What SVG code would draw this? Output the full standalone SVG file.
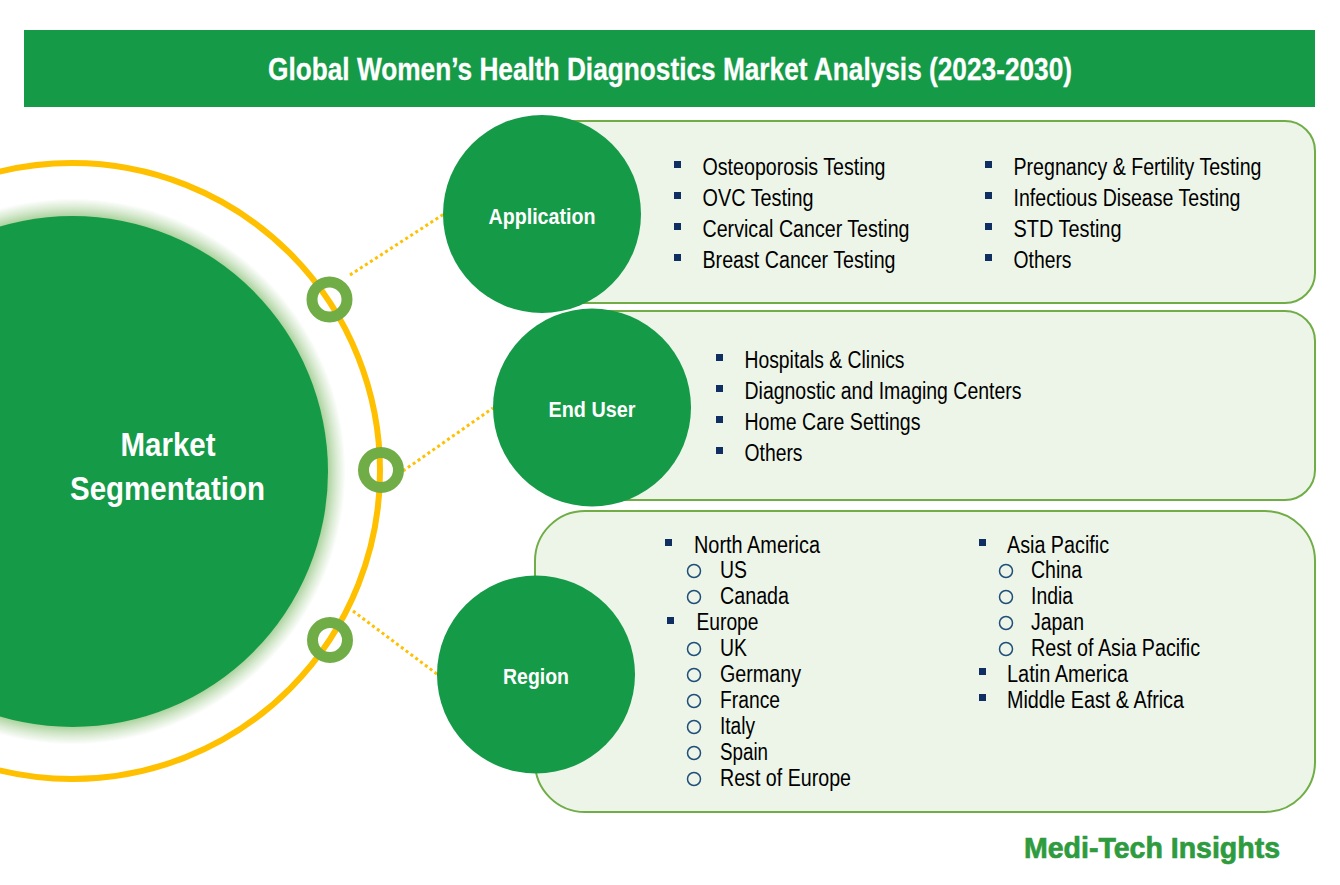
<svg xmlns="http://www.w3.org/2000/svg" width="1340" height="885" viewBox="0 0 1340 885">
<style>
text{font-family:"Liberation Sans",Arial,sans-serif}
.panel{fill:#EDF5E8;stroke:#70AD47;stroke-width:2}
.node{fill:#159A48}
.h{fill:#fff;font-weight:700;font-size:22px;text-anchor:middle}
.t{fill:#000;font-size:23px}
.sq{fill:#0F2F63}
.ci{fill:none;stroke:#1F4E79;stroke-width:1.5}
.link{fill:none;stroke:#FFC000;stroke-width:3;stroke-dasharray:3 3}
.knob{fill:none;stroke:#70AD47;stroke-width:11}
</style>
<defs>
<radialGradient id="glow" gradientUnits="userSpaceOnUse" cx="72.500" cy="471.500" r="273">
<stop offset="0.93" stop-color="#A5CF96"/>
<stop offset="0.965" stop-color="#D6E9CE"/>
<stop offset="1" stop-color="#fff"/>
</radialGradient>
</defs>
<rect width="1340" height="885" fill="#fff"/>
<g id="title"><rect x="24" y="30" width="1291" height="77" fill="#159A48"/>
<text x="670" y="80" fill="#fff" stroke="#fff" stroke-width="0.300" font-size="31" font-weight="700" text-anchor="middle" textLength="804" lengthAdjust="spacingAndGlyphs">Global Women’s Health Diagnostics Market Analysis (2023-2030)</text></g>
<g id="hub">
<circle cx="72" cy="471" r="308" fill="none" stroke="#FFC000" stroke-width="6"/>
<circle cx="72.500" cy="471.500" r="273" fill="url(#glow)"/>
<circle cx="72.500" cy="471.500" r="255.500" fill="#159A48"/>
<text x="168" y="456" fill="#fff" font-size="33" font-weight="700" text-anchor="middle" textLength="95" lengthAdjust="spacingAndGlyphs">Market</text>
<text x="167.500" y="500" fill="#fff" font-size="33" font-weight="700" text-anchor="middle" textLength="195" lengthAdjust="spacingAndGlyphs">Segmentation</text>
</g>
<g id="connectors">
<path class="link" d="M350 275L444 214"/>
<path class="link" d="M403 471L493 408"/>
<path class="link" d="M353 611L437 674"/>
</g>
<g id="knobs">
<circle class="knob" cx="329.500" cy="299.500" r="17.500"/>
<circle class="knob" cx="381" cy="470" r="17.500"/>
<circle class="knob" cx="330" cy="640" r="17.500"/>
</g>
<g id="application">
<rect class="panel" x="520" y="121" width="795" height="182" rx="30"/>
<circle class="node" cx="542" cy="214" r="99"/>
<text class="h" x="542" y="224" textLength="107" lengthAdjust="spacingAndGlyphs">Application</text>
<g class="sq"><rect x="674" y="161" width="7" height="7"/><rect x="674" y="192" width="7" height="7"/><rect x="674" y="223" width="7" height="7"/><rect x="674" y="254" width="7" height="7"/><rect x="985" y="161" width="7" height="7"/><rect x="985" y="192" width="7" height="7"/><rect x="985" y="223" width="7" height="7"/><rect x="985" y="254" width="7" height="7"/></g>
<text class="t" x="702.500" y="175" textLength="183" lengthAdjust="spacingAndGlyphs">Osteoporosis Testing</text>
<text class="t" x="702.500" y="206" textLength="111" lengthAdjust="spacingAndGlyphs">OVC Testing</text>
<text class="t" x="702.500" y="237" textLength="207" lengthAdjust="spacingAndGlyphs">Cervical Cancer Testing</text>
<text class="t" x="702.500" y="268" textLength="193" lengthAdjust="spacingAndGlyphs">Breast Cancer Testing</text>
<text class="t" x="1013.500" y="175" textLength="248" lengthAdjust="spacingAndGlyphs">Pregnancy &amp; Fertility Testing</text>
<text class="t" x="1013.500" y="206" textLength="227" lengthAdjust="spacingAndGlyphs">Infectious Disease Testing</text>
<text class="t" x="1013.500" y="237" textLength="108" lengthAdjust="spacingAndGlyphs">STD Testing</text>
<text class="t" x="1013.500" y="268" textLength="58" lengthAdjust="spacingAndGlyphs">Others</text>
</g>
<g id="end-user">
<rect class="panel" x="570" y="311" width="745" height="189" rx="30"/>
<circle class="node" cx="592" cy="407.500" r="99"/>
<text class="h" x="592" y="417" textLength="87" lengthAdjust="spacingAndGlyphs">End User</text>
<g class="sq"><rect x="716" y="354" width="7" height="7"/><rect x="716" y="385" width="7" height="7"/><rect x="716" y="416" width="7" height="7"/><rect x="716" y="447" width="7" height="7"/></g>
<text class="t" x="744.500" y="368" textLength="160" lengthAdjust="spacingAndGlyphs">Hospitals &amp; Clinics</text>
<text class="t" x="744.500" y="399" textLength="277" lengthAdjust="spacingAndGlyphs">Diagnostic and Imaging Centers</text>
<text class="t" x="744.500" y="430" textLength="176" lengthAdjust="spacingAndGlyphs">Home Care Settings</text>
<text class="t" x="744.500" y="461" textLength="58" lengthAdjust="spacingAndGlyphs">Others</text>
</g>
<g id="region">
<rect class="panel" x="535" y="511" width="780" height="301" rx="50"/>
<circle class="node" cx="536" cy="674.500" r="99"/>
<text class="h" x="536" y="684" textLength="66" lengthAdjust="spacingAndGlyphs">Region</text>
<g class="sq"><rect x="665" y="539" width="7" height="7"/><rect x="667" y="617" width="7" height="7"/><rect x="979" y="539" width="7" height="7"/><rect x="979" y="668" width="7" height="7"/><rect x="979" y="694" width="7" height="7"/></g>
<g class="ci"><circle cx="694" cy="571" r="6.500"/><circle cx="694" cy="597" r="6.500"/><circle cx="694" cy="649" r="6.500"/><circle cx="694" cy="675" r="6.500"/><circle cx="694" cy="701" r="6.500"/><circle cx="694" cy="727" r="6.500"/><circle cx="694" cy="753" r="6.500"/><circle cx="694" cy="779" r="6.500"/><circle cx="1006" cy="571" r="6.500"/><circle cx="1006" cy="597" r="6.500"/><circle cx="1006" cy="623" r="6.500"/><circle cx="1006" cy="649" r="6.500"/></g>
<text class="t" x="694" y="553" textLength="126" lengthAdjust="spacingAndGlyphs">North America</text>
<text class="t" x="720" y="578" textLength="27" lengthAdjust="spacingAndGlyphs">US</text>
<text class="t" x="720" y="604" textLength="69" lengthAdjust="spacingAndGlyphs">Canada</text>
<text class="t" x="696.500" y="630" textLength="62" lengthAdjust="spacingAndGlyphs">Europe</text>
<text class="t" x="720" y="656" textLength="27" lengthAdjust="spacingAndGlyphs">UK</text>
<text class="t" x="720" y="682" textLength="81" lengthAdjust="spacingAndGlyphs">Germany</text>
<text class="t" x="720" y="708" textLength="60" lengthAdjust="spacingAndGlyphs">France</text>
<text class="t" x="720" y="734" textLength="35" lengthAdjust="spacingAndGlyphs">Italy</text>
<text class="t" x="720" y="760" textLength="48" lengthAdjust="spacingAndGlyphs">Spain</text>
<text class="t" x="720" y="786" textLength="131" lengthAdjust="spacingAndGlyphs">Rest of Europe</text>
<text class="t" x="1007" y="553" textLength="102" lengthAdjust="spacingAndGlyphs">Asia Pacific</text>
<text class="t" x="1031" y="578" textLength="51" lengthAdjust="spacingAndGlyphs">China</text>
<text class="t" x="1031" y="604" textLength="42" lengthAdjust="spacingAndGlyphs">India</text>
<text class="t" x="1031" y="630" textLength="53" lengthAdjust="spacingAndGlyphs">Japan</text>
<text class="t" x="1031" y="656" textLength="169" lengthAdjust="spacingAndGlyphs">Rest of Asia Pacific</text>
<text class="t" x="1007" y="682" textLength="121" lengthAdjust="spacingAndGlyphs">Latin America</text>
<text class="t" x="1007" y="708" textLength="177" lengthAdjust="spacingAndGlyphs">Middle East &amp; Africa</text>
</g>
<g id="logo"><text x="1024" y="858" fill="#2E9B3E" stroke="#2E9B3E" stroke-width="0.700" font-size="30" font-weight="700" textLength="256" lengthAdjust="spacingAndGlyphs">Medi-Tech Insights</text></g>
</svg>
